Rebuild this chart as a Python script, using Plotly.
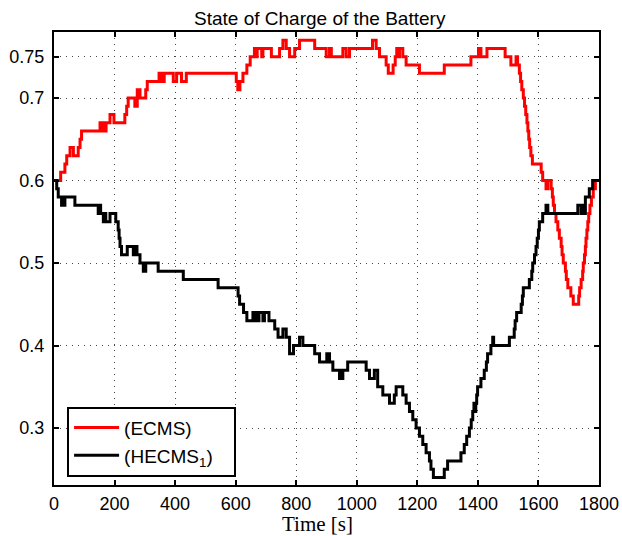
import plotly.graph_objects as go

# state of charge, step series
t_ecms = [0, 22, 36, 42, 53, 64, 80, 86, 91, 152, 157, 162, 167, 172, 185, 198, 234, 240, 245, 267, 275, 284,
          303, 308, 347, 352, 356, 360, 364, 394, 405, 421, 437, 602, 607, 614, 624, 637, 648, 662, 667, 671,
          686, 690, 718, 745, 756, 767, 778, 795, 811, 861, 899, 910, 916, 954, 965, 976, 1052, 1064, 1075,
          1097, 1104, 1120, 1127, 1132, 1137, 1141, 1152, 1163, 1207, 1289, 1377, 1402, 1410, 1430, 1490,
          1509, 1526, 1531, 1537, 1541, 1545, 1550, 1554, 1558, 1562, 1565, 1568, 1571, 1575, 1580, 1609,
          1614, 1625, 1631, 1642, 1646, 1649, 1653, 1658, 1664, 1669, 1675, 1678, 1682, 1689, 1692, 1697,
          1707, 1715, 1733, 1736, 1741, 1746, 1748, 1752, 1755, 1757, 1760, 1763, 1766, 1770, 1775, 1781,
          1788, 1800]
soc_ecms = [0.60, 0.61, 0.62, 0.63, 0.64, 0.63, 0.64, 0.65, 0.66, 0.67, 0.66, 0.67, 0.66, 0.67, 0.68, 0.67,
            0.68, 0.69, 0.70, 0.69, 0.71, 0.70, 0.71, 0.72, 0.73, 0.72, 0.73, 0.72, 0.73, 0.72, 0.73, 0.72,
            0.73, 0.72, 0.71, 0.72, 0.73, 0.74, 0.75, 0.76, 0.75, 0.76, 0.75, 0.76, 0.75, 0.76, 0.77, 0.76,
            0.75, 0.76, 0.77, 0.76, 0.75, 0.76, 0.75, 0.76, 0.75, 0.76, 0.77, 0.76, 0.75, 0.74, 0.73, 0.74,
            0.75, 0.76, 0.75, 0.76, 0.75, 0.74, 0.73, 0.74, 0.75, 0.76, 0.75, 0.76, 0.75, 0.74, 0.75, 0.74,
            0.73, 0.72, 0.71, 0.70, 0.69, 0.68, 0.67, 0.66, 0.65, 0.64, 0.63, 0.62, 0.61, 0.60, 0.59, 0.60,
            0.59, 0.58, 0.57, 0.56, 0.55, 0.54, 0.53, 0.52, 0.51, 0.50, 0.49, 0.48, 0.47, 0.46, 0.45, 0.46,
            0.47, 0.48, 0.49, 0.50, 0.51, 0.52, 0.53, 0.54, 0.55, 0.56, 0.57, 0.58, 0.59, 0.60, 0.60]

t_hecms = [0, 9, 14, 25, 28, 31, 36, 69, 146, 150, 154, 163, 167, 171, 185, 204, 212, 215, 218, 223, 242, 262,
           265, 268, 271, 274, 284, 295, 303, 344, 427, 542, 608, 613, 626, 637, 657, 662, 667, 672, 677, 690,
           695, 710, 729, 740, 756, 767, 778, 791, 811, 822, 861, 877, 901, 910, 921, 943, 947, 951, 954, 970,
           1031, 1042, 1058, 1069, 1086, 1108, 1124, 1130, 1152, 1163, 1174, 1185, 1196, 1207, 1218, 1229,
           1240, 1245, 1253, 1289, 1300, 1344, 1355, 1363, 1372, 1378, 1383, 1387, 1390, 1393, 1396, 1399,
           1410, 1421, 1428, 1432, 1443, 1449, 1452, 1504, 1520, 1523, 1528, 1543, 1547, 1550, 1570, 1578,
           1581, 1587, 1592, 1596, 1600, 1603, 1614, 1625, 1631, 1730, 1741, 1745, 1750, 1755, 1768, 1779,
           1800]
soc_hecms = [0.60, 0.59, 0.58, 0.57, 0.58, 0.57, 0.58, 0.57, 0.56, 0.57, 0.56, 0.55, 0.56, 0.55, 0.56, 0.55,
             0.54, 0.53, 0.52, 0.51, 0.52, 0.51, 0.52, 0.51, 0.52, 0.51, 0.50, 0.49, 0.50, 0.49, 0.48, 0.47,
             0.46, 0.45, 0.44, 0.43, 0.44, 0.43, 0.44, 0.43, 0.44, 0.43, 0.44, 0.43, 0.42, 0.41, 0.42, 0.41,
             0.39, 0.40, 0.41, 0.40, 0.39, 0.38, 0.39, 0.38, 0.37, 0.36, 0.37, 0.36, 0.37, 0.38, 0.37, 0.36,
             0.37, 0.35, 0.34, 0.33, 0.34, 0.35, 0.34, 0.33, 0.32, 0.31, 0.30, 0.29, 0.28, 0.27, 0.26, 0.25,
             0.24, 0.25, 0.26, 0.27, 0.28, 0.29, 0.30, 0.31, 0.32, 0.33, 0.32, 0.33, 0.34, 0.35, 0.36, 0.37,
             0.38, 0.39, 0.40, 0.41, 0.40, 0.41, 0.42, 0.43, 0.44, 0.45, 0.46, 0.47, 0.48, 0.49, 0.50, 0.51,
             0.52, 0.53, 0.54, 0.55, 0.56, 0.57, 0.56, 0.57, 0.56, 0.57, 0.56, 0.58, 0.59, 0.60, 0.60]

x_ticks = [0, 200, 400, 600, 800, 1000, 1200, 1400, 1600, 1800]
y_ticks = [0.3, 0.4, 0.5, 0.6, 0.7, 0.75]
y_labels = ["0.3", "0.4", "0.5", "0.6", "0.7", "0.75"]

fig = go.Figure()
fig.add_trace(go.Scatter(x=t_ecms, y=soc_ecms, name="(ECMS)", mode="lines",
                         line=dict(color="#ff0000", width=3, shape="hv")))
fig.add_trace(go.Scatter(x=t_hecms, y=soc_hecms, name="(HECMS<sub>1</sub>)&nbsp;&nbsp;&nbsp;", mode="lines",
                         line=dict(color="#000000", width=3, shape="hv")))

axis_common = dict(
    showline=True, linecolor="black", linewidth=2, mirror="allticks",
    ticks="inside", ticklen=5, tickwidth=1.5, tickcolor="black",
    showgrid=True, gridcolor="#444444", gridwidth=1, griddash="1px,5px",
    zeroline=False, automargin=False,
    tickfont=dict(family="Liberation Sans, Arial", size=18, color="black"),
)

fig.update_xaxes(range=[0, 1800], tickvals=x_ticks, ticklabelstandoff=1, **axis_common)
fig.update_yaxes(range=[0.231, 0.780], tickvals=y_ticks, ticktext=y_labels, ticklabelstandoff=4,
                 **axis_common)

fig.update_layout(
    width=622, height=536,
    margin=dict(l=54, r=23, t=32, b=51),
    paper_bgcolor="white", plot_bgcolor="white",
    title=dict(text="State of Charge of the Battery", x=0.514, xanchor="center",
               y=0.965, yanchor="middle",
               font=dict(family="Liberation Sans, Arial", size=19, color="black")),
    legend=dict(x=0.024, y=0.173, xanchor="left", yanchor="top", bgcolor="white",
                bordercolor="black", borderwidth=2, itemwidth=45,
                font=dict(family="Liberation Sans, Arial", size=19, color="black")),
    showlegend=True,
    annotations=[dict(text="Time [s]", xref="paper", yref="paper", x=0.484, y=-0.086,
                      xanchor="center", yanchor="middle", showarrow=False,
                      font=dict(family="Liberation Serif, Times New Roman", size=21, color="black"))],
)

# drop the page's default body margin so the figure sits at the window's corner
fig.write_html("out.html", config={"displayModeBar": False},
               post_script="document.body.style.margin='0px';")
